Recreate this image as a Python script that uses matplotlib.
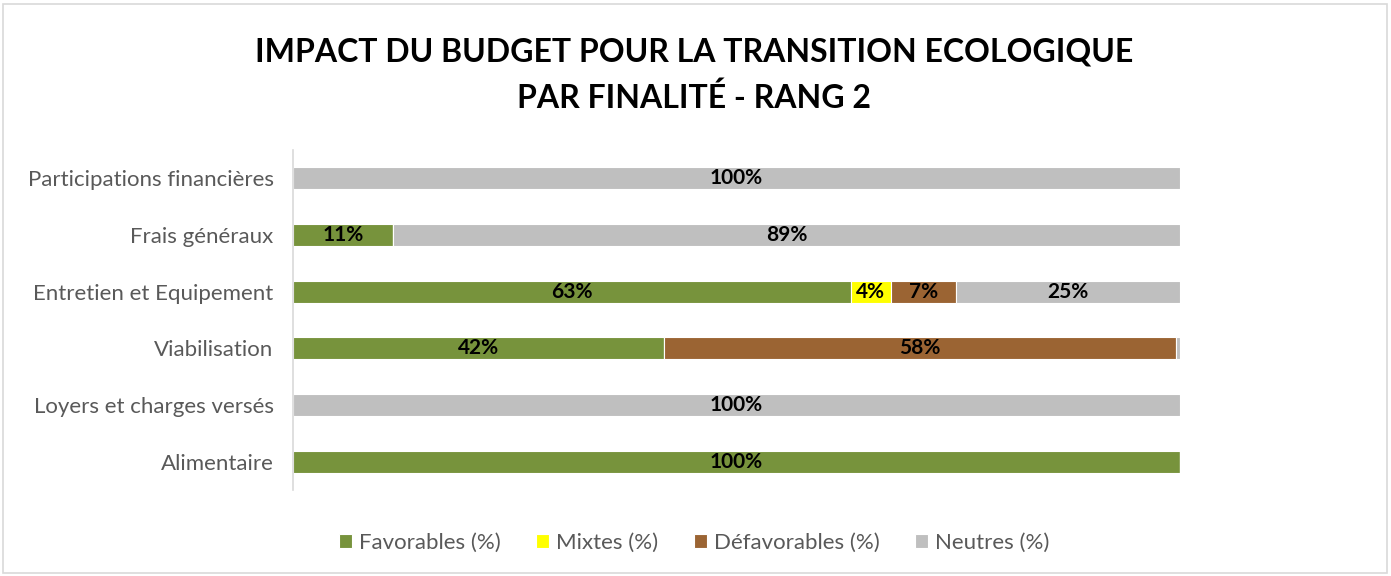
import matplotlib
matplotlib.use("Agg")
import matplotlib.pyplot as plt
from matplotlib.patches import Rectangle
import numpy as np

plt.rcParams['font.family'] = ['Lato', 'DejaVu Sans']

categories = ["Alimentaire", "Loyers et charges versés", "Viabilisation",
              "Entretien et Equipement", "Frais généraux", "Participations financières"]
series_names = ["Favorables (%)", "Mixtes (%)", "Défavorables (%)", "Neutres (%)"]
favorables = [100.0, 0.0, 41.8, 62.9, 11.3, 0.0]
mixtes = [0.0, 0.0, 0.0, 4.5, 0.0, 0.0]
defavorables = [0.0, 0.0, 57.8, 7.4, 0.0, 0.0]
neutres = [0.0, 100.0, 0.4, 25.2, 88.7, 100.0]
colors = ["#77933C", "#FFFF00", "#9B6433", "#BFBFBF"]

W, H = 1391, 576
fig = plt.figure(figsize=(W/100, H/100), dpi=100)
fig.patches.append(Rectangle((3/W, 3/H), (W-7)/W, (H-7)/H, transform=fig.transFigure,
                             fill=False, edgecolor="#D9D9D9", linewidth=1.2))
ax = fig.add_axes([293/W, 1-490/H, 887/W, 340/H])

y = np.arange(len(categories))
left = np.zeros(len(categories))
for name, vals, c in zip(series_names, [favorables, mixtes, defavorables, neutres], colors):
    vals = np.array(vals)
    ax.barh(y, vals, left=left, height=0.39, color=c, edgecolor="white",
            linewidth=0.8, label=name)
    for yi, v, l in zip(y, vals, left):
        if v >= 1:
            ax.text(l + v/2, yi, f"{round(v):.0f}%", ha="center", va="center",
                    fontsize=15, fontweight="bold", color="black")
    left += vals

ax.set_xlim(0, 100)
ax.set_ylim(-0.5, len(categories) - 0.5)
ax.set_yticks(y)
ax.set_yticklabels(categories, fontsize=16, color="#595959")
ax.tick_params(axis="y", length=0, pad=14)
ax.set_xticks([])
for s in ["top", "right", "bottom"]:
    ax.spines[s].set_visible(False)
ax.spines["left"].set_color("#D9D9D9")
ax.spines["left"].set_linewidth(1.2)

fig.text(694/W, 1-52/H, "IMPACT DU BUDGET POUR LA TRANSITION ECOLOGIQUE",
         ha="center", va="center", fontsize=23, fontweight="bold", color="black")
fig.text(694/W, 1-98/H, "PAR FINALITÉ - RANG 2",
         ha="center", va="center", fontsize=23, fontweight="bold", color="black")

leg = fig.legend(loc="center", bbox_to_anchor=(694/W, 1-543/H), ncol=4, frameon=False,
                 fontsize=16, handlelength=0.6, handleheight=0.6, handletextpad=0.3,
                 columnspacing=1.6)
for t in leg.get_texts():
    t.set_color("#595959")

fig.savefig("out.png", dpi=100)
